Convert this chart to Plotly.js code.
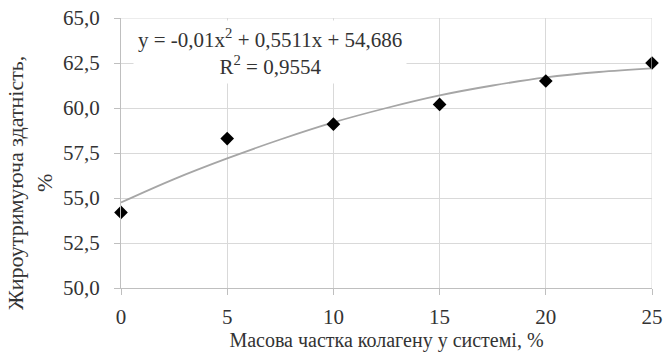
<!DOCTYPE html>
<html><head><meta charset="utf-8">
<script src="https://cdn.plot.ly/plotly-3.0.1.min.js"></script>
<style>html,body{margin:0;padding:0;background:#fff;}#chart{width:664px;height:355px;}</style>
</head><body><div id="chart"></div>
<script>
// Data
const collagenShare = [0, 5, 10, 15, 20, 25];
const fatHolding = [54.2, 58.3, 59.1, 60.2, 61.5, 62.5];
// Polynomial trend line as drawn
const trendX = [0, 2.5, 5, 7.5, 10, 12.5, 15, 17.5, 20, 22.5, 25];
const trendY = [54.75, 56.05, 57.2, 58.25, 59.2, 60.0, 60.7, 61.25, 61.7, 62.0, 62.2];
const yTicks = [50, 52.5, 55, 57.5, 60, 62.5, 65];
const xTicks = [0, 5, 10, 15, 20, 25];
const equationText = 'y = -0,01x<sup>2</sup> + 0,5511x + 54,686<br>R<sup>2</sup> = 0,9554';
const xTitle = 'Масова частка колагену у системі, %';
const yTitle = 'Жироутримуюча здатність,<br>%';

const FONT = '"Liberation Serif", "DejaVu Serif", "Times New Roman", serif';
const TXT = '#333333';

const traces = [
  {x: trendX, y: trendY, mode: 'lines', line: {color: '#a6a6a6', width: 1.8, shape: 'spline'}, hoverinfo: 'skip'},
  {x: collagenShare, y: fatHolding, mode: 'markers', cliponaxis: false,
   marker: {symbol: 'diamond', size: 10.5, color: '#000000'}}
];

const layout = {
  width: 664, height: 355,
  margin: {l: 121, r: 12, t: 18, b: 67},
  paper_bgcolor: '#ffffff', plot_bgcolor: '#ffffff',
  showlegend: false,
  separators: ', ',
  font: {family: FONT, size: 21, color: TXT},
  xaxis: {
    range: [0, 25], tickvals: xTicks, ticktext: xTicks.map(String),
    showgrid: true, gridcolor: '#d9d9d9', gridwidth: 1,
    showline: true, linecolor: '#bfbfbf', linewidth: 1,
    ticks: 'outside', ticklen: 6, tickcolor: '#bfbfbf',
    ticklabelstandoff: 4,
    zeroline: false,
    tickfont: {family: FONT, size: 21, color: TXT},
    title: {text: xTitle, font: {family: FONT, size: 20, color: TXT}, standoff: 3}
  },
  yaxis: {
    range: [50, 65], tickvals: yTicks, tickformat: '.1f',
    showgrid: true, gridcolor: '#d9d9d9', gridwidth: 1,
    showline: true, linecolor: '#bfbfbf', linewidth: 1,
    ticks: 'outside', ticklen: 6, tickcolor: '#bfbfbf',
    ticklabelstandoff: 10,
    zeroline: false,
    tickfont: {family: FONT, size: 21, color: TXT}
  },
  shapes: [
    {type: 'line', xref: 'x', yref: 'y', x0: 25, x1: 25, y0: 50, y1: 65, line: {color: '#d9d9d9', width: 1}},
    {type: 'line', xref: 'x', yref: 'y', x0: 0, x1: 25, y0: 65, y1: 65, line: {color: '#d9d9d9', width: 1}}
  ],
  annotations: [
    {xref: 'x', yref: 'y', x: 7.0, y: 63.1, text: equationText, showarrow: false,
     xanchor: 'center', yanchor: 'middle',
     bgcolor: '#ffffff', borderpad: 4, align: 'center',
     font: {family: FONT, size: 21, color: TXT}},
    {xref: 'paper', yref: 'paper', x: -0.171, y: 0.39, text: yTitle, showarrow: false,
     xanchor: 'center', yanchor: 'middle',
     textangle: -90, align: 'center', font: {family: FONT, size: 22, color: TXT}}
  ]
};

Plotly.newPlot('chart', traces, layout, {displayModeBar: false, staticPlot: true});
</script>
</body></html>
